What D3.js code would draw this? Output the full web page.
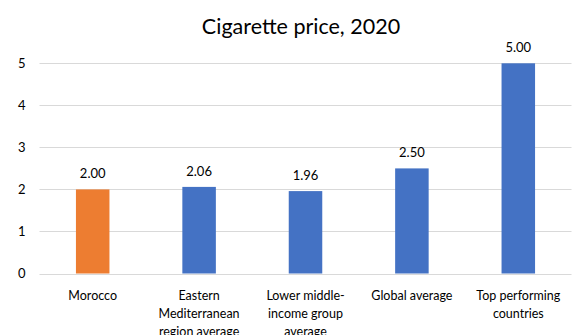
<!DOCTYPE html>
<html>
<head>
<meta charset="utf-8">
<script src="https://cdn.jsdelivr.net/npm/d3@7"></script>
<style>
  html, body { margin: 0; padding: 0; background: #fff; }
  svg text { font-family: Lato, "Open Sans", sans-serif; fill: #000; }
</style>
</head>
<body>
<svg id="chart" width="572" height="335"></svg>
<script>
// Cigarette price comparison, 2020
const categories = [
  ["Morocco"],
  ["Eastern", "Mediterranean", "region average"],
  ["Lower middle-", "income group", "average"],
  ["Global average"],
  ["Top performing", "countries"]
];
const prices = [2.00, 2.06, 1.96, 2.50, 5.00];
const priceLabels = ["2.00", "2.06", "1.96", "2.50", "5.00"];
const barColors = ["#ED7D31", "#4472C4", "#4472C4", "#4472C4", "#4472C4"];
const yTicks = [0, 1, 2, 3, 4, 5];
const title = "Cigarette price, 2020";

const svg = d3.select("#chart");
const plot = { left: 39.5, right: 571.5, top: 63.3, bottom: 273.5 };

const x = d3.scaleBand()
  .domain(d3.range(prices.length))
  .range([plot.left, plot.right])
  .padding(0);
const barW = x.bandwidth() * 0.315;

const y = d3.scaleLinear().domain([0, 5]).range([plot.bottom, plot.top]);

// title
svg.append("text")
  .attr("x", 301).attr("y", 34)
  .attr("text-anchor", "middle")
  .style("font-size", "21.5px")
  .text(title);

// horizontal gridlines
svg.append("g")
  .selectAll("line")
  .data(yTicks)
  .join("line")
  .attr("x1", plot.left).attr("x2", plot.right)
  .attr("y1", d => Math.round(y(d)) + 0.5)
  .attr("y2", d => Math.round(y(d)) + 0.5)
  .attr("stroke", "#d9d9d9")
  .attr("stroke-width", 1);

// y-axis tick labels
const yAxis = d3.axisLeft(y).tickValues(yTicks).tickSize(0).tickPadding(0).tickFormat(d3.format("d"));
const gy = svg.append("g").attr("transform", `translate(${plot.left - 14},0)`).call(yAxis);
gy.select(".domain").remove();
gy.selectAll("text").style("font-size", "13px").style("font-family", "Lato, 'Open Sans', sans-serif").attr("fill", "#000");

// bars
svg.append("g")
  .selectAll("rect")
  .data(prices)
  .join("rect")
  .attr("x", (d, i) => x(i) + (x.bandwidth() - barW) / 2)
  .attr("y", d => y(d))
  .attr("width", barW)
  .attr("height", d => y(0) - y(d))
  .attr("fill", (d, i) => barColors[i]);

// value labels
svg.append("g")
  .selectAll("text")
  .data(prices)
  .join("text")
  .attr("x", (d, i) => x(i) + x.bandwidth() / 2)
  .attr("y", d => y(d) - 11)
  .attr("text-anchor", "middle")
  .style("font-size", "13px")
  .text((d, i) => priceLabels[i]);

// category labels
const xg = svg.append("g");
categories.forEach((lines, i) => {
  const t = xg.append("text")
    .attr("x", x(i) + x.bandwidth() / 2)
    .attr("y", 300)
    .attr("text-anchor", "middle")
    .style("font-size", "12.5px");
  lines.forEach((ln, j) => {
    t.append("tspan")
      .attr("x", x(i) + x.bandwidth() / 2)
      .attr("dy", j === 0 ? 0 : 18)
      .text(ln);
  });
});
</script>
</body>
</html>
